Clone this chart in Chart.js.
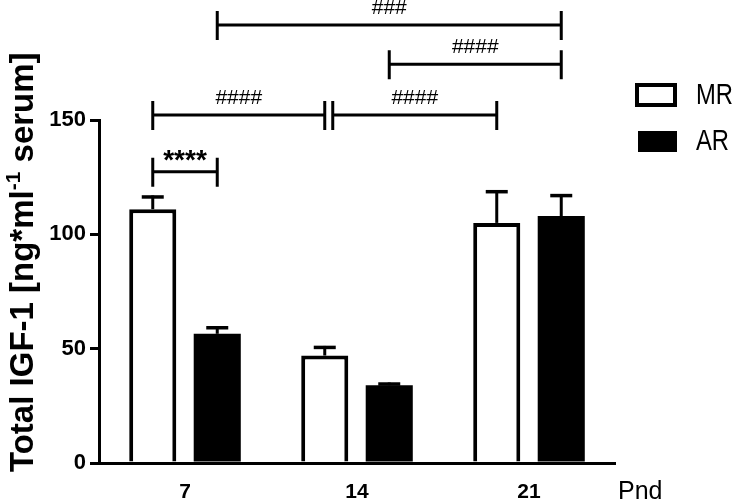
<!DOCTYPE html>
<html>
<head>
<meta charset="utf-8">
<script src="https://cdn.jsdelivr.net/npm/chart.js@4/dist/chart.umd.min.js"></script>
<style>
  html, body { margin: 0; padding: 0; background: #fff; }
</style>
</head>
<body>
<canvas id="igf" width="737" height="502"></canvas>
<script>
const days = ["7", "14", "21"];
const mrValues = [111, 47, 105];
const arValues = [56.5, 34, 108];
// upper error (SEM) for each bar
const mrErrors = [6, 4.2, 14.3];
const arErrors = [3.3, 1.2, 9.6];
const yTicks = [0, 50, 100, 150];

// significance brackets: from bar [dataset, day] to bar [dataset, day], height in y units
const bracketFrom = [[0, 0], [0, 0], [0, 1], [1, 1], [1, 0]];
const bracketTo = [[1, 0], [0, 1], [0, 2], [1, 2], [1, 2]];
const bracketLevel = [127.4, 152.2, 152.2, 174.4, 191.5];
const bracketLabel = ["****", "####", "####", "####", "###"];

const FONT = "'Liberation Sans', Arial, sans-serif";

const extras = {
  id: "extras",
  afterDatasetsDraw(chart) {
    const ctx = chart.ctx;
    const y = chart.scales.y;
    const area = chart.chartArea;
    ctx.save();
    ctx.strokeStyle = "#000";
    ctx.fillStyle = "#000";
    ctx.lineCap = "butt";

    // error bars (upper only)
    [mrErrors, arErrors].forEach((errs, d) => {
      const vals = d === 0 ? mrValues : arValues;
      const meta = chart.getDatasetMeta(d);
      meta.data.forEach((bar, i) => {
        const top = y.getPixelForValue(vals[i]);
        const end = y.getPixelForValue(vals[i] + errs[i]);
        ctx.lineWidth = 3;
        ctx.beginPath();
        ctx.moveTo(bar.x, top);
        ctx.lineTo(bar.x, end);
        ctx.stroke();
        ctx.lineWidth = 3.5;
        ctx.beginPath();
        ctx.moveTo(bar.x - 11, end + 1.5);
        ctx.lineTo(bar.x + 11, end + 1.5);
        ctx.stroke();
      });
    });

    // brackets
    const ends = [];
    bracketLabel.forEach((label, k) => {
      const a = chart.getDatasetMeta(bracketFrom[k][0]).data[bracketFrom[k][1]];
      const b = chart.getDatasetMeta(bracketTo[k][0]).data[bracketTo[k][1]];
      const ly = y.getPixelForValue(bracketLevel[k]);
      let x1 = a.x, x2 = b.x;
      // leave a small gap where two brackets meet at the same height
      if (ends.some(e => Math.abs(e[0] - x1) < 1 && Math.abs(e[1] - ly) < 1)) x1 += 8;
      ends.push([x2, ly]);
      ctx.lineWidth = 3;
      ctx.beginPath();
      ctx.moveTo(x1, ly);
      ctx.lineTo(x2, ly);
      ctx.moveTo(x1, ly - 14);
      ctx.lineTo(x1, ly + 15);
      ctx.moveTo(x2, ly - 14);
      ctx.lineTo(x2, ly + 15);
      ctx.stroke();
      ctx.textAlign = "center";
      ctx.textBaseline = "middle";
      if (label.startsWith("*")) {
        ctx.font = "bold 28px " + FONT;
        ctx.fillText(label, (x1 + x2) / 2, ly - 10);
      } else {
        ctx.font = "21px " + FONT;
        ctx.fillText(label, (x1 + x2) / 2, ly - 17);
      }
    });

    // legend
    ctx.lineWidth = 4;
    ctx.strokeRect(637, 85, 38, 20);
    ctx.fillRect(638, 131, 39, 21);
    ctx.textAlign = "left";
    ctx.textBaseline = "middle";
    ctx.font = "29px " + FONT;
    ["MR", "AR"].forEach((t, i) => {
      ctx.save();
      ctx.translate(696, i === 0 ? 96 : 142);
      ctx.scale(0.82, 1);
      ctx.fillText(t, 0, 0);
      ctx.restore();
    });

    // x axis unit
    ctx.font = "25px " + FONT;
    ctx.fillText("Pnd", area.right + 3, 492);

    // y axis title with superscript
    ctx.translate(33, 472);
    ctx.rotate(-Math.PI / 2);
    ctx.textBaseline = "alphabetic";
    const main1 = "Total IGF-1 [ng*ml", sup = "-1", main2 = " serum]";
    ctx.font = "bold 33px " + FONT;
    const w1 = ctx.measureText(main1).width;
    ctx.fillText(main1, 0, 0);
    ctx.font = "bold 21px " + FONT;
    const w2 = ctx.measureText(sup).width;
    ctx.fillText(sup, w1, -13);
    ctx.font = "bold 33px " + FONT;
    ctx.fillText(main2, w1 + w2, 0);
    ctx.restore();
  }
};

const ctx = document.getElementById("igf");
const chart = new Chart(ctx, {
  type: "bar",
  data: {
    labels: days,
    datasets: [
      {
        label: "MR",
        data: mrValues,
        backgroundColor: "#fff",
        borderColor: "#000",
        borderWidth: 4,
        borderSkipped: "start",
      },
      {
        label: "AR",
        data: arValues,
        backgroundColor: "#000",
        borderColor: "#000",
        borderWidth: 0,
      },
    ],
  },
  options: {
    responsive: false,
    animation: false,
    categoryPercentage: 0.75,
    barPercentage: 0.73,
    layout: { padding: { top: 120, right: 122, left: 0, bottom: 0 } },
    plugins: { legend: { display: false }, tooltip: { enabled: false } },
    scales: {
      x: {
        grid: { display: false, drawTicks: false },
        border: { display: true, color: "#000", width: 3 },
        ticks: { color: "#000", padding: 17, font: { family: FONT, size: 21, weight: "bold" } },
        afterFit: (s) => { s.height = 39; },
      },
      y: {
        min: 0,
        max: 150,
        afterBuildTicks: (s) => { s.ticks = yTicks.map((v) => ({ value: v })); },
        grid: { drawOnChartArea: false, drawTicks: true, tickLength: 9, color: "#000", lineWidth: 3 },
        border: { display: true, color: "#000", width: 3 },
        ticks: { color: "#000", padding: 4, font: { family: FONT, size: 22, weight: "bold" } },
        afterFit: (s) => { s.width = 99; },
      },
    },
  },
  plugins: [extras],
});
</script>
</body>
</html>
